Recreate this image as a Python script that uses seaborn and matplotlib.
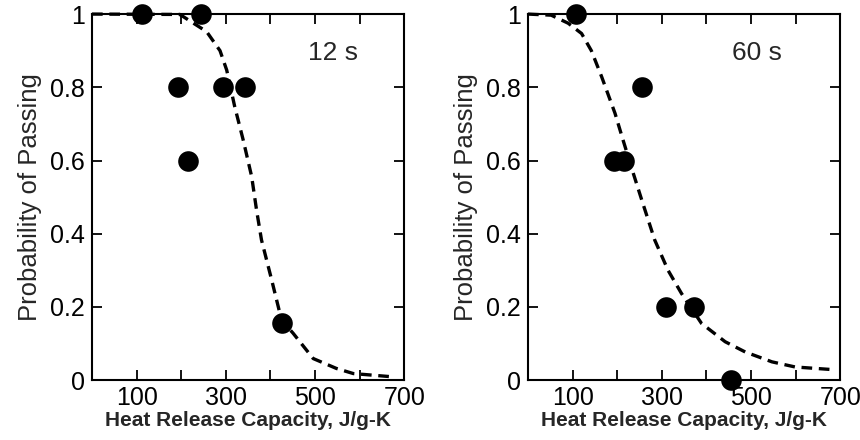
import matplotlib
matplotlib.use("Agg")
import matplotlib.pyplot as plt
import pandas as pd
import seaborn as sns

# measured points, 12 s exposure
hrc_12 = [111, 244, 192, 215, 293, 342, 425]
pass_12 = [1.0, 1.0, 0.8, 0.6, 0.8, 0.8, 0.155]

# measured points, 60 s exposure
hrc_60 = [108, 193, 215, 256, 309, 372, 456]
pass_60 = [1.0, 0.6, 0.6, 0.8, 0.2, 0.2, 0.0]

# fitted curves
fit_x_12 = [0, 197, 257, 287, 302, 320, 339, 358, 369, 380, 403, 425, 451, 496, 548, 586, 675]
fit_y_12 = [1.0, 0.999, 0.952, 0.90, 0.847, 0.747, 0.656, 0.556, 0.464, 0.383, 0.273, 0.164,
            0.128, 0.059, 0.032, 0.018, 0.009]
fit_x_60 = [0, 52, 90, 120, 142, 165, 195, 213, 236, 255, 284, 314, 344, 389, 442, 487, 547, 599, 681]
fit_y_60 = [1.0, 0.997, 0.975, 0.947, 0.90, 0.829, 0.729, 0.656, 0.565, 0.492, 0.383, 0.30,
            0.237, 0.155, 0.105, 0.077, 0.050, 0.036, 0.029]

panel_labels = ["12 s", "60 s"]
label_pos = [(541, 0.895), (513, 0.895)]

x_ticks = [100, 200, 300, 400, 500, 600, 700]
x_ticklabels = ["100", "", "300", "", "500", "", "700"]
y_ticks = [0, 0.2, 0.4, 0.6, 0.8, 1.0]
y_ticklabels = ["0", "0.2", "0.4", "0.6", "0.8", "1"]

sns.set_style("ticks")
plt.rcParams["font.family"] = ["Liberation Sans", "DejaVu Sans"]

fig = plt.figure(figsize=(8.6, 4.4), dpi=100)
ax1 = fig.add_axes([0.107, 0.136, 0.363, 0.832])
ax2 = fig.add_axes([0.614, 0.136, 0.363, 0.832])

panels = [
    (ax1, hrc_12, pass_12, fit_x_12, fit_y_12),
    (ax2, hrc_60, pass_60, fit_x_60, fit_y_60),
]

for i, (ax, px, py, fx, fy) in enumerate(panels):
    pts = pd.DataFrame({"hrc": px, "p": py})
    fit = pd.DataFrame({"hrc": fx, "p": fy})
    sns.lineplot(data=fit, x="hrc", y="p", ax=ax, color="black", linewidth=2.4,
                 linestyle=(0, (3.2, 2)), clip_on=False, zorder=2)
    sns.scatterplot(data=pts, x="hrc", y="p", ax=ax, color="black", s=220,
                    edgecolor="black", linewidth=0, clip_on=False, zorder=3)
    ax.set_xlim(0, 700)
    ax.set_ylim(0, 1)
    ax.set_xticks(x_ticks)
    ax.set_xticklabels(x_ticklabels)
    ax.set_yticks(y_ticks)
    ax.set_yticklabels(y_ticklabels)
    ax.tick_params(direction="in", length=7, width=1.3, labelsize=18, pad=5,
                   top=True, right=True, colors="black")
    ax.tick_params(axis="x", pad=4)
    for sp in ax.spines.values():
        sp.set_visible(True)
        sp.set_linewidth(1.5)
        sp.set_color("black")
    ax.set_xlabel("Heat Release Capacity, J/g-K", fontsize=15, fontweight="bold", labelpad=1)
    ax.set_ylabel("Probability of Passing", fontsize=18.5, labelpad=6)
    tx, ty = label_pos[i]
    ax.text(tx, ty, panel_labels[i], fontsize=19, ha="center", va="center")

fig.savefig("out.png", dpi=100)
